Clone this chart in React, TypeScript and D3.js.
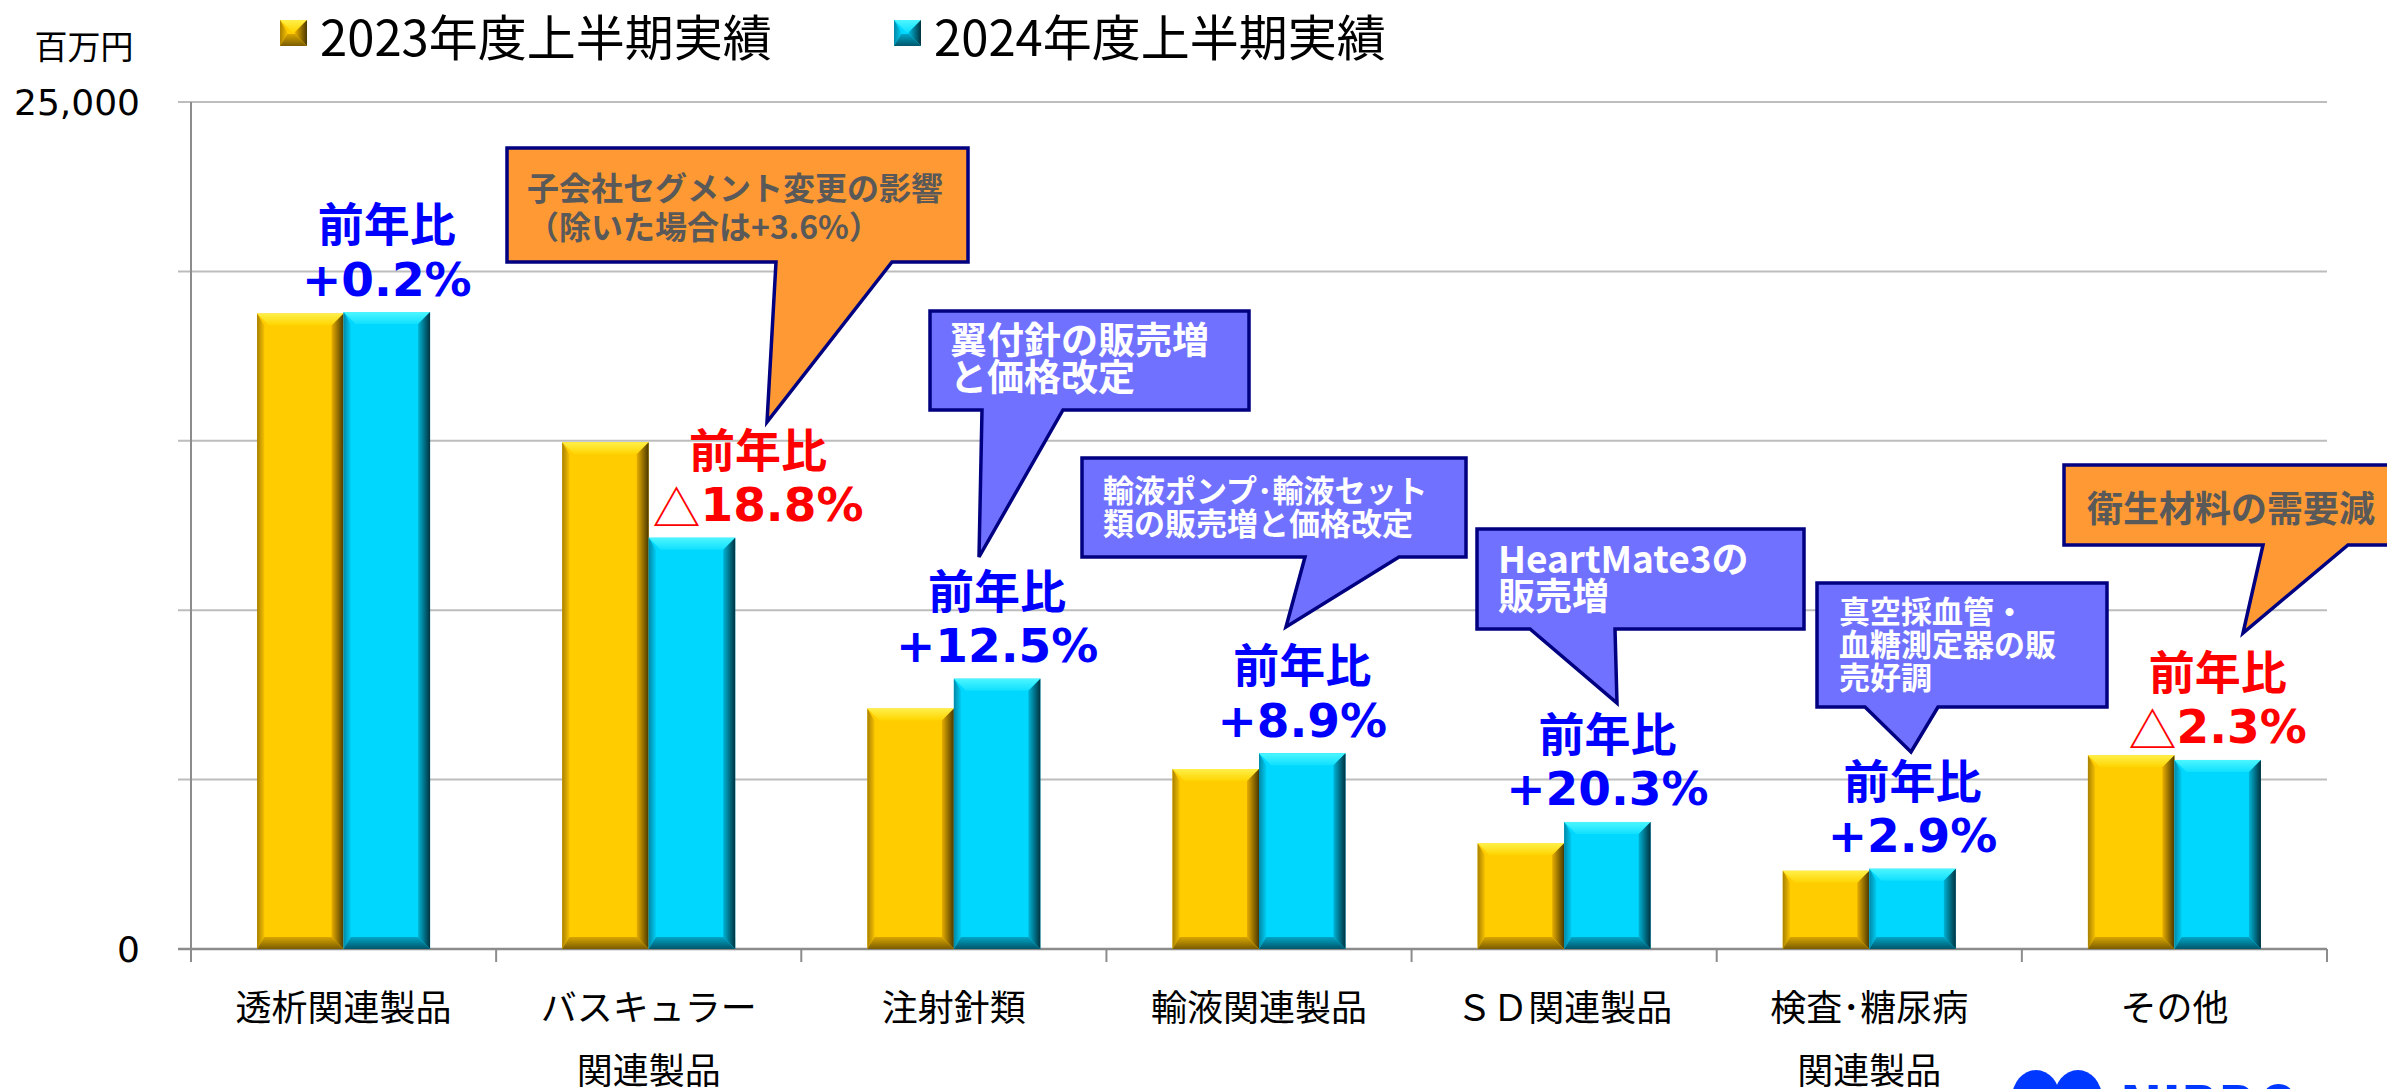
import React from 'react';
import * as d3 from 'd3';

// ---------- data ----------
const categories = ['透析関連製品', 'バスキュラー関連製品', '注射針類', '輸液関連製品', 'ＳＤ関連製品', '検査･糖尿病関連製品', 'その他'];
const categoryLines = [['透析関連製品'], ['バスキュラー', '関連製品'], ['注射針類'], ['輸液関連製品'], ['ＳＤ関連製品'], ['検査･糖尿病', '関連製品'], ['その他']];
const seriesNames = ['2023年度上半期実績', '2024年度上半期実績'];
const values2023 = [18760, 14960, 7100, 5310, 3120, 2310, 5720];
const values2024 = [18800, 12140, 7980, 5780, 3750, 2370, 5580];
const yoyLabels = ['+0.2%', '△18.8%', '+12.5%', '+8.9%', '+20.3%', '+2.9%', '△2.3%'];
const yGridTicks = [0, 5000, 10000, 15000, 20000, 25000];
const yLabelTicks = [0, 25000];
const unitLabel = '百万円';

const callouts = [
  { kind: 'orange', lines: ['子会社セグメント変更の影響', '（除いた場合は+3.6%）'] },
  { kind: 'blue', lines: ['翼付針の販売増', 'と価格改定'] },
  { kind: 'blue', lines: ['輸液ポンプ･輸液セット', '類の販売増と価格改定'] },
  { kind: 'blue', lines: ['HeartMate3の', '販売増'] },
  { kind: 'blue', lines: ['真空採血管・', '血糖測定器の販', '売好調'] },
  { kind: 'orange', lines: ['衛生材料の需要減'] },
];

// ---------- layout ----------
const W = 2387;
const H = 1089;
const M = { left: 191, right: 2327, top: 102, bottom: 949 };

const calloutLayout = [
  { x0: 507, y0: 148, x1: 968, y1: 262, bl: 776, br: 892, tx: 767, ty: 422, fs: 32, lh: 39, pad: 20, firstY: 186 },
  { x0: 930, y0: 311, x1: 1249, y1: 410, bl: 982, br: 1063, tx: 979, ty: 557, fs: 37, lh: 37, pad: 20, firstY: 338 },
  { x0: 1082, y0: 458, x1: 1466, y1: 557, bl: 1305, br: 1399, tx: 1286, ty: 627, fs: 31, lh: 33, pad: 21, firstY: 488 },
  { x0: 1477, y0: 529, x1: 1804, y1: 629, bl: 1530, br: 1615, tx: 1617, ty: 703, fs: 37, lh: 37, pad: 21, firstY: 557 },
  { x0: 1817, y0: 583, x1: 2107, y1: 707, bl: 1865, br: 1938, tx: 1911, ty: 752, fs: 31, lh: 33, pad: 22, firstY: 609 },
  { x0: 2064, y0: 465, x1: 2400, y1: 545, bl: 2263, br: 2348, tx: 2243, ty: 633, fs: 36, lh: 36, pad: 23, firstY: 506 },
];
const labelDx = [0, 66, 0, 0, 0, 0, 0];

const palettes = [
  { body: '#FFCC00', topA: '#FFF04A', topB: '#FFD400', rightA: '#E8AE00', rightB: '#4A3800', leftA: '#A88000', leftB: '#F5C000', botA: '#D9A600', botB: '#7A5C00' },
  { body: '#00D7FF', topA: '#4DF6FF', topB: '#10E0FF', rightA: '#00B4D6', rightB: '#00323F', leftA: '#0088A8', leftB: '#00CCF2', botA: '#00A6C6', botB: '#00566B' },
];

const CJK = "'Noto Sans CJK JP', 'Noto Sans', sans-serif";
const LATIN = "'DejaVu Sans', 'Noto Sans CJK JP', sans-serif";

function BevelBar({ x, y, w, h, p, id }: any) {
  const b = Math.min(12, h / 2, w / 2);
  const x0 = x, x1 = x + w, y0 = y, y1 = y + h;
  const pts = (a: number[][]) => a.map((q) => q.join(',')).join(' ');
  return (
    <g>
      <defs>
        <linearGradient id={`t${id}`} x1="0" y1="0" x2="0" y2="1">
          <stop offset="0" stopColor={p.topA} />
          <stop offset="1" stopColor={p.topB} />
        </linearGradient>
        <linearGradient id={`r${id}`} x1="0" y1="0" x2="1" y2="0">
          <stop offset="0" stopColor={p.rightA} />
          <stop offset="1" stopColor={p.rightB} />
        </linearGradient>
        <linearGradient id={`l${id}`} x1="0" y1="0" x2="1" y2="0">
          <stop offset="0" stopColor={p.leftA} />
          <stop offset="1" stopColor={p.leftB} />
        </linearGradient>
        <linearGradient id={`b${id}`} x1="0" y1="0" x2="0" y2="1">
          <stop offset="0" stopColor={p.botA} />
          <stop offset="1" stopColor={p.botB} />
        </linearGradient>
      </defs>
      <rect x={x0} y={y0} width={w} height={h} fill={p.body} />
      <polygon points={pts([[x0, y0], [x1, y0], [x1 - b, y0 + b], [x0 + b, y0 + b]])} fill={`url(#t${id})`} />
      <polygon points={pts([[x0, y0], [x0 + b * 0.6, y0 + b], [x0 + b * 0.6, y1 - b], [x0, y1]])} fill={`url(#l${id})`} />
      <polygon points={pts([[x1, y0], [x1, y1], [x1 - b, y1 - b], [x1 - b, y0 + b]])} fill={`url(#r${id})`} />
      <polygon points={pts([[x0, y1], [x1, y1], [x1 - b, y1 - b], [x0 + b * 0.6, y1 - b]])} fill={`url(#b${id})`} />
    </g>
  );
}

export default function App() {
  const x = d3.scaleBand<string>().domain(categories).range([M.left, M.right]).paddingInner(0).paddingOuter(0);
  const y = d3.scaleLinear().domain([0, 25000]).range([M.bottom, M.top]);
  const groupW = x.bandwidth() * 0.567;
  const xs = d3.scaleBand<string>().domain(seriesNames).range([0, groupW]).padding(0);
  const seriesValues = [values2023, values2024];
  const fmt = d3.format(',');

  return (
    <svg width={W} height={H} viewBox={`0 0 ${W} ${H}`} style={{ position: 'absolute', left: 0, top: 0, background: '#fff' }}>
      <rect x={0} y={0} width={W} height={H} fill="#fff" />

      {/* gridlines */}
      {yGridTicks.map((t) => (
        <line key={t} x1={M.left - 13} x2={M.right} y1={y(t)} y2={y(t)} stroke={t === 0 ? '#8C8C8C' : '#BDBDBD'} strokeWidth={t === 0 ? 2.5 : 2} />
      ))}
      {/* y axis */}
      <line x1={M.left} x2={M.left} y1={M.top} y2={M.bottom + 13} stroke="#8C8C8C" strokeWidth={2} />
      {/* x ticks */}
      {categories.map((c) => (
        <line key={c} x1={(x(c) as number) + x.bandwidth()} x2={(x(c) as number) + x.bandwidth()} y1={M.bottom} y2={M.bottom + 13} stroke="#8C8C8C" strokeWidth={2} />
      ))}

      {/* y labels */}
      {yLabelTicks.map((t) => (
        <text key={t} x={140} y={y(t)} textAnchor="end" dominantBaseline="central" fontFamily={LATIN} fontSize={36} fill="#000">
          {fmt(t)}
        </text>
      ))}
      <text x={84} y={45} textAnchor="middle" dominantBaseline="central" fontFamily={CJK} fontSize={33} fill="#000">{unitLabel}</text>

      {/* legend */}
      {seriesNames.map((s, i) => {
        const lx = i === 0 ? 280 : 894;
        return (
          <g key={s}>
            <BevelBar x={lx} y={20} w={27} h={26} p={palettes[i]} id={`lg${i}`} />
            <text x={lx + 40} y={34} dominantBaseline="central" fontFamily={CJK} fontSize={49} fill="#000">{s}</text>
          </g>
        );
      })}

      {/* bars */}
      {categories.map((c, ci) => {
        const gx = (x(c) as number) + (x.bandwidth() - groupW) / 2;
        return (
          <g key={c}>
            {seriesNames.map((s, si) => {
              const v = seriesValues[si][ci];
              return (
                <BevelBar key={s} x={gx + (xs(s) as number)} y={y(v)} w={xs.bandwidth()} h={y(0) - y(v)} p={palettes[si]} id={`b${ci}_${si}`} />
              );
            })}
          </g>
        );
      })}

      {/* category labels */}
      {categories.map((c, ci) => (
        <text key={c} x={(x(c) as number) + x.bandwidth() / 2} textAnchor="middle" fontFamily={CJK} fontSize={36} fill="#000">
          {categoryLines[ci].map((ln, li) => (
            <tspan key={li} x={(x(c) as number) + x.bandwidth() / 2} y={1005 + li * 63} dominantBaseline="central">{ln}</tspan>
          ))}
        </text>
      ))}

      {/* callouts */}
      {callouts.map((co, i) => {
        const L = calloutLayout[i];
        const d = `M${L.x0},${L.y0} H${L.x1} V${L.y1} H${L.br} L${L.tx},${L.ty} L${L.bl},${L.y1} H${L.x0} Z`;
        const orange = co.kind === 'orange';
        return (
          <g key={i}>
            <path d={d} fill={orange ? '#FF9933' : '#7171FF'} stroke="#000080" strokeWidth={3.5} strokeLinejoin="miter" />
            {co.lines.map((ln, li) => (
              <text key={li} x={L.x0 + L.pad} y={L.firstY + li * L.lh} dominantBaseline="central" fontFamily={CJK} fontWeight="bold" fontSize={L.fs} fill={orange ? '#595959' : '#FFFFFF'}>
                {ln}
              </text>
            ))}
          </g>
        );
      })}

      {/* YoY labels */}
      {categories.map((c, ci) => {
        const v = values2024[ci];
        const cx = (x(c) as number) + (x.bandwidth() - groupW) / 2 + (xs(seriesNames[1]) as number) + xs.bandwidth() / 2 + labelDx[ci];
        const lab = yoyLabels[ci];
        const neg = lab.startsWith('△');
        const col = neg ? '#FF0000' : '#0000FF';
        const y2 = y(v) - 33;
        const y1 = y2 - 58;
        return (
          <g key={c} fill={col}>
            <text x={cx} y={y1} textAnchor="middle" dominantBaseline="central" fontFamily={CJK} fontWeight="bold" fontSize={46}>前年比</text>
            <text x={cx} y={y2} textAnchor="middle" dominantBaseline="central" fontFamily={LATIN} fontWeight="bold" fontSize={47}>
              {neg ? <tspan fontFamily={CJK} fontWeight="normal" fontSize={48}>△</tspan> : null}
              {neg ? lab.slice(1) : lab}
            </text>
          </g>
        );
      })}

      {/* logo fragment */}
      <g fill="#0038FF">
        <ellipse cx={2036} cy={1098} rx={24} ry={28} />
        <ellipse cx={2078} cy={1098} rx={24} ry={28} />
        <text x={2120} y={1137} fontFamily={LATIN} fontWeight="bold" fontSize={72} textLength={180} lengthAdjust="spacingAndGlyphs">NIPRO</text>
      </g>
    </svg>
  );
}
